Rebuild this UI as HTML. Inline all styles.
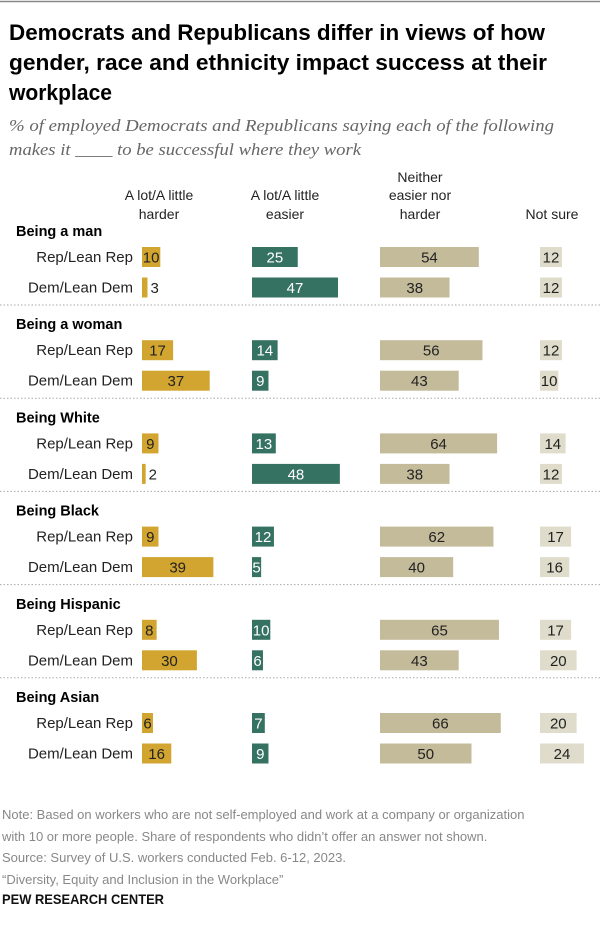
<!DOCTYPE html>
<html><head><meta charset="utf-8"><style>
html,body{margin:0;padding:0;background:#fff;}
svg{display:block;font-family:"Liberation Sans",sans-serif;}
</style></head><body>
<svg id="chart" width="600" height="930" viewBox="0 0 600 930">
<line x1="0" y1="1.5" x2="600" y2="1.5" stroke="#888" stroke-width="1.5"/>
<g font-weight="bold" font-size="22" fill="#000">
<text x="9" y="40" textLength="536" lengthAdjust="spacingAndGlyphs">Democrats and Republicans differ in views of how</text>
<text x="9" y="70" textLength="538" lengthAdjust="spacingAndGlyphs">gender, race and ethnicity impact success at their</text>
<text x="9" y="100" textLength="103" lengthAdjust="spacingAndGlyphs">workplace</text>
</g>
<g font-family="Liberation Serif, serif" font-style="italic" font-size="17" fill="#666">
<text x="9" y="131" textLength="545" lengthAdjust="spacingAndGlyphs">% of employed Democrats and Republicans saying each of the following</text>
<text x="9" y="155" textLength="352" lengthAdjust="spacingAndGlyphs">makes it ____ to be successful where they work</text>
</g>
<g font-size="14" fill="#222" text-anchor="middle">
<text x="159" y="200">A lot/A little</text><text x="159" y="219">harder</text>
<text x="285" y="200">A lot/A little</text><text x="285" y="219">easier</text>
<text x="420" y="182">Neither</text><text x="420" y="200">easier nor</text><text x="420" y="219">harder</text>
<text x="552" y="219">Not sure</text>
</g>
<g id="rows"></g>
<g font-size="13" fill="#888">
<text x="2" y="819">Note: Based on workers who are not self-employed and work at a company or organization</text>
<text x="2" y="841">with 10 or more people. Share of respondents who didn’t offer an answer not shown.</text>
<text x="2" y="862">Source: Survey of U.S. workers conducted Feb. 6-12, 2023.</text>
<text x="2" y="884">“Diversity, Equity and Inclusion in the Workplace”</text>
</g>
<text x="2" y="904" font-size="14" font-weight="bold" fill="#111" textLength="162" lengthAdjust="spacingAndGlyphs">PEW RESEARCH CENTER</text>
</svg>
<script>
const groups = ["Being a man","Being a woman","Being White","Being Black","Being Hispanic","Being Asian"];
const parties = ["Rep/Lean Rep","Dem/Lean Dem"];
const harder = [[10,3],[17,37],[9,2],[9,39],[8,30],[6,16]];
const easier = [[25,47],[14,9],[13,48],[12,5],[10,6],[7,9]];
const neither = [[54,38],[56,43],[64,38],[62,40],[65,43],[66,50]];
const notSure = [[12,12],[12,10],[14,12],[17,16],[17,20],[20,24]];

const NS = "http://www.w3.org/2000/svg";
const root = document.getElementById("rows");
const scale = 1.83;
const x = v => v * scale;
const cols = [
  {data: harder, x0: 142, fill: "#d1a52f", text: "#222", name: "harder"},
  {data: easier, x0: 252, fill: "#367262", text: "#fff", name: "easier"},
  {data: neither, x0: 380, fill: "#c4bb9b", text: "#222", name: "neither"},
  {data: notSure, x0: 540, fill: "#dfdccb", text: "#222", name: "not-sure"}
];
function el(tag, attrs, parent) {
  const e = document.createElementNS(NS, tag);
  for (const k in attrs) e.setAttribute(k, attrs[k]);
  parent.appendChild(e);
  return e;
}
groups.forEach((g, gi) => {
  const top = 230 + gi * 93.2;
  const gEl = el("g", {}, root);
  
  
  const h = el("text", {x: 16, y: top + 6, "font-size": 14.5, "font-weight": "bold", fill: "#000"}, gEl);
  h.textContent = g;
  
  
  parties.forEach((p, pi) => {
    const cy = top + 27 + pi * 30.5;
    const lab = el("text", {x: 133, y: cy + 5, "font-size": 15, fill: "#222", "text-anchor": "end"}, gEl);
    lab.textContent = p;
    
    
    cols.forEach(c => {
      const v = c.data[gi][pi];
      const w = x(v);
      const r = el("rect", {x: c.x0, y: cy - 10, width: w, height: 20, fill: c.fill}, gEl);
      
      
      const t = el("text", {"font-size": 15, y: cy + 5.5}, gEl);
      if (v <= 3) {
        t.setAttribute("x", c.x0 + w + 3);
        t.setAttribute("fill", "#222");
      } else {
        t.setAttribute("x", c.x0 + w / 2);
        t.setAttribute("text-anchor", "middle");
        t.setAttribute("fill", c.text);
      }
      t.textContent = v;
      
      
    });
  });
  if (gi < groups.length - 1) {
    const ln = el("line", {x1: 0, x2: 600, y1: top + 75, y2: top + 75, stroke: "#aaa", "stroke-width": 1, "stroke-dasharray": "1.5,2"}, gEl);
    
    
  }
});
</script>
</body></html>
